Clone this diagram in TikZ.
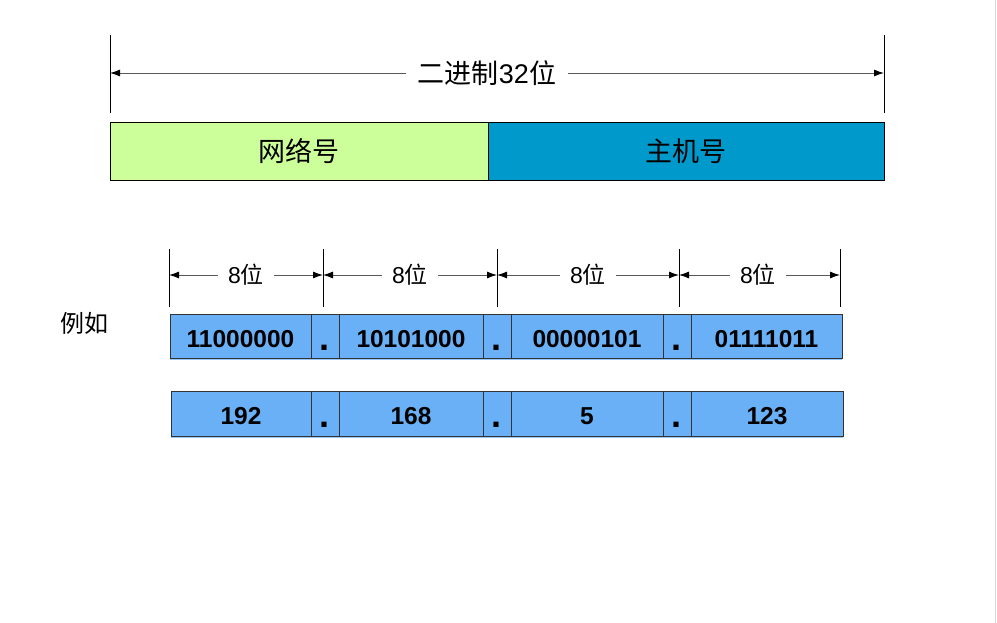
\documentclass[tikz,border=0pt]{standalone}
\usepackage{fontspec}
\setmainfont{Liberation Sans}
\newfontfamily\cjk{Noto Sans CJK SC}
\usetikzlibrary{arrows.meta}
\definecolor{netgreen}{RGB}{204,255,153}
\definecolor{hostblue}{RGB}{0,153,204}
\definecolor{cellblue}{RGB}{106,176,246}
\definecolor{cellshadow}{RGB}{150,200,250}

\tikzset{
  part/.style={draw=black, line width=0.8pt, minimum height=58pt, inner sep=0pt,
    font=\fontsize{27}{30}\selectfont\cjk},
  cell/.style={draw=black!80, line width=0.8pt, fill=cellblue, inner sep=0pt,
    text height=22pt, text depth=0pt, font=\fontsize{24.5}{28}\selectfont\bfseries},
  sep/.style={cell, minimum width=28pt, font=\fontsize{36}{36}\selectfont\bfseries},
  dimtext/.style={inner sep=10pt, font=\fontsize{23}{26}\selectfont},
  dimarrow/.style={draw=black!65, line width=0.9pt, -{Latex[length=10pt,width=7pt,color=black]}},
}

\begin{document}
\begin{tikzpicture}[x=1pt,y=-1pt]
\useasboundingbox (0,0) rectangle (997,623);
\draw[black!15, line width=1.5pt] (995.5,0) -- (995.5,623);

% 32 bits
\coordinate (L) at (110,73);
\coordinate (R) at (884,73);
\draw[line width=0.8pt] (110,35) -- (110,113);
\draw[line width=0.8pt] (884,35) -- (884,113);
\node[dimtext, inner sep=12pt, font=\fontsize{27}{30}\selectfont] (all) at (487,73) {{\cjk 二进制}32{\cjk 位}};
\draw[dimarrow] (all) -- (L);
\draw[dimarrow] (all) -- (R);

% network / host
\node[part, fill=netgreen, minimum width=378pt] (net) at (299,151) {网络号};
\node[part, fill=hostblue, minimum width=396pt] (host) at (686,151) {主机号};

% 8 bits each
\foreach \i/\x in {1/169,2/323,3/497,4/679,5/840}{
  \coordinate (k\i) at (\x,275);
  \draw[line width=0.8pt] (\x,249) -- (\x,307);
}
\foreach \i/\j/\x in {1/2/246,2/3/410,3/4/588,4/5/758}{
  \node[dimtext] (b\i) at (\x,275) {8{\cjk 位}};
  \draw[dimarrow] (b\i) -- (k\i);
  \draw[dimarrow] (b\i) -- (k\j);
}

\node[font=\fontsize{24}{28}\selectfont\cjk] (eg) at (84,323) {例如};

% binary
\node[cell, minimum width=141pt, minimum height=44pt] (bin1) at (240.5,336) {11000000};
\node[sep, minimum height=44pt] (dot11) at (325,336) {\kern-2pt\raisebox{-3pt}{.}};
\node[cell, minimum width=144pt, minimum height=44pt] (bin2) at (411,336) {10101000};
\node[sep, minimum height=44pt] (dot12) at (497,336) {\kern-2pt\raisebox{-3pt}{.}};
\node[cell, minimum width=152pt, minimum height=44pt] (bin3) at (587,336) {00000101};
\node[sep, minimum height=44pt] (dot13) at (677,336) {\kern-2pt\raisebox{-3pt}{.}};
\node[cell, minimum width=151pt, minimum height=44pt] (bin4) at (766.5,336) {01111011};
\draw[cellshadow, line width=1pt] ([yshift=-1.5pt]bin1.south west) -- ([yshift=-1.5pt]bin4.south east);

% decimal
\node[cell, minimum width=140pt, minimum height=45pt, text height=21pt] (dec1) at (241,413.5) {192};
\node[sep, minimum height=45pt, text height=21pt] (dot21) at (325,413.5) {\kern-2pt\raisebox{-3pt}{.}};
\node[cell, minimum width=144pt, minimum height=45pt, text height=21pt] (dec2) at (411,413.5) {168};
\node[sep, minimum height=45pt, text height=21pt] (dot22) at (497,413.5) {\kern-2pt\raisebox{-3pt}{.}};
\node[cell, minimum width=152pt, minimum height=45pt, text height=21pt] (dec3) at (587,413.5) {5};
\node[sep, minimum height=45pt, text height=21pt] (dot23) at (677,413.5) {\kern-2pt\raisebox{-3pt}{.}};
\node[cell, minimum width=152pt, minimum height=45pt, text height=21pt] (dec4) at (767,413.5) {123};
\draw[cellshadow, line width=1pt] ([yshift=-1.5pt]dec1.south west) -- ([yshift=-1.5pt]dec4.south east);
\end{tikzpicture}
\end{document}
